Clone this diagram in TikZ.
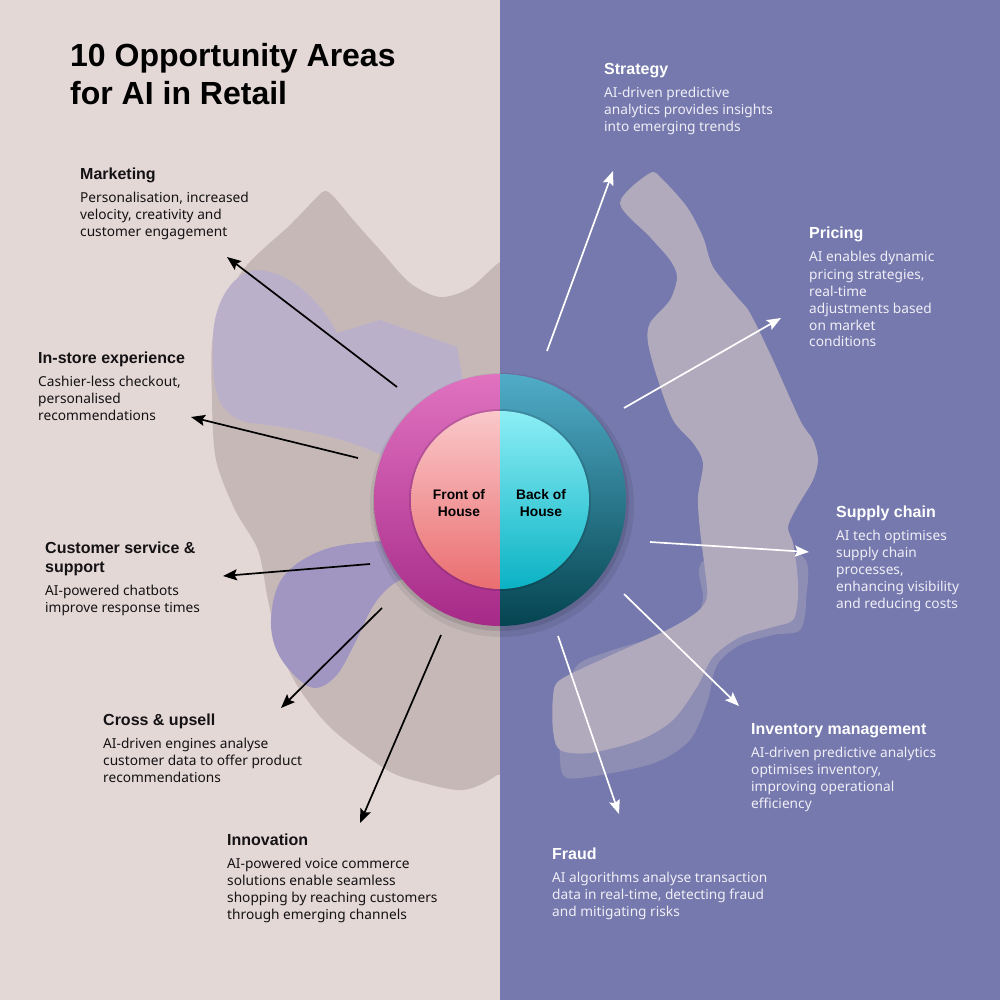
\documentclass[tikz,border=0pt]{standalone}
\usepackage{fontspec}
\setmainfont{Noto Sans}
\newfontfamily\headfont{Liberation Sans}
\usepackage{tikz}
\usetikzlibrary{arrows.meta}
\usepackage{xcolor}

\definecolor{leftbg}{RGB}{228,216,214}
\definecolor{rightbg}{RGB}{117,121,173}
\definecolor{blobgrey}{RGB}{199,184,184}
\definecolor{bloblav}{RGB}{186,176,201}
\definecolor{blobviolet}{RGB}{161,150,193}
\definecolor{blobright}{RGB}{177,169,188}
\definecolor{ringpinkT}{RGB}{224,114,192}
\definecolor{ringpinkB}{RGB}{166,42,136}
\definecolor{corepinkT}{RGB}{250,200,202}
\definecolor{corepinkM}{RGB}{239,140,140}
\definecolor{corepinkB}{RGB}{234,110,112}
\definecolor{ringtealT}{RGB}{80,172,200}
\definecolor{ringtealB}{RGB}{5,68,80}
\definecolor{coretealT}{RGB}{140,238,245}
\definecolor{coretealM}{RGB}{60,205,218}
\definecolor{coretealB}{RGB}{10,178,196}
\definecolor{inkdark}{RGB}{20,18,20}
\definecolor{inklight}{RGB}{240,238,247}

\newcommand{\areatext}[2]{\parbox[t]{300pt}{\raggedright
  {\headfont\fontsize{16}{19}\selectfont\bfseries\leavevmode #1\par}\vspace{6pt}
  {\fontsize{13.7}{17}\selectfont #2\par}}}

\begin{document}
\begin{tikzpicture}[x=1pt, y=-1pt,
    area/.style={anchor=base west, inner sep=0pt},
    fohline/.style={draw=black, line width=1.7pt, -{Stealth[length=14pt, width=11pt, inset=2.5pt]}},
    bohline/.style={draw=white, line width=1.7pt, -{Stealth[length=14pt, width=11pt, inset=2.5pt]}}]

    \useasboundingbox (0,0) rectangle (1000,1000);

    % Background halves and blobs
    \fill[leftbg] (0,0) rectangle (500,1000);
    \fill[blobgrey] plot[smooth cycle, tension=0.5] coordinates {
        (325,191) (334,197) (355,222) (380,250) (410,283) (440,297) (470,288) (500,262)
        (530,250) (530,740) (497,775) (463,790) (420,782) (387,770) (333,730)
        (300,690) (280,650) (268,600) (258,550) (235,510) (216,460) (212,400)
        (214,330) (243,270) (290,225) (317,197)};
    \fill[bloblav] (258,270) .. controls (290,272) and (320,300) .. (337,333)
        -- (380,320) -- (457,347) -- (470,420) -- (400,465)
        .. controls (360,440) and (300,428) .. (250,423)
        .. controls (215,415) and (212,390) .. (213,337)
        .. controls (214,300) and (235,270) .. (258,270) -- cycle;
    \fill[blobviolet] plot[smooth cycle, tension=0.6] coordinates {
        (380,541) (323,550) (283,577) (271,620) (280,657) (310,687) (335,677)
        (355,643) (375,603) (400,580) (430,575) (440,540)};

    \fill[rightbg] (500,0) rectangle (1000,1000);
    \fill[blobright, opacity=0.42] plot[smooth cycle, tension=0.5] coordinates {
        (705,560) (800,555) (806,600) (800,630) (773,635) (740,645) (717,665)
        (707,703) (690,740) (657,762) (607,774) (567,778) (560,760) (562,720)
        (575,668) (607,652) (657,637) (690,628) (703,600)};
    \fill[blobright] plot[smooth cycle, tension=0.5] coordinates {
        (650,173) (663,180) (687,207) (703,237) (713,267) (737,297) (750,313)
        (773,360) (800,420) (813,440) (818,460) (813,480) (797,507) (788,527)
        (793,543) (797,570) (798,597) (793,620) (773,627) (740,637) (713,657)
        (697,687) (673,720) (640,740) (590,753) (560,750) (553,730) (553,697)
        (560,680) (607,657) (667,630) (697,612) (707,597) (705,570) (700,530)
        (698,497) (703,463) (693,443) (673,420) (657,377) (648,343) (650,323)
        (670,300) (677,277) (670,260) (650,237) (620,203)};

    % Hub
    \coordinate (hub) at (500,500);
    \fill[black, opacity=0.07] (hub) ++(2,5) circle[radius=132pt];
    \fill[black, opacity=0.10] (hub) ++(1,3) circle[radius=128pt];
    \begin{scope}
        \clip (370,360) rectangle (500,640);
        \shade[top color=ringpinkT, bottom color=ringpinkB] (hub) circle[radius=126pt];
        \fill[black, opacity=0.12] (hub) circle[radius=91pt];
        \shade[top color=corepinkT, middle color=corepinkM, bottom color=corepinkB] (hub) circle[radius=89pt];
    \end{scope}
    \begin{scope}
        \clip (500,360) rectangle (630,640);
        \shade[top color=ringtealT, bottom color=ringtealB] (hub) circle[radius=126pt];
        \fill[black, opacity=0.12] (hub) circle[radius=91pt];
        \shade[top color=coretealT, middle color=coretealM, bottom color=coretealB] (hub) circle[radius=89pt];
    \end{scope}
    \node (foh) [align=center, font=\headfont\fontsize{13.8}{17}\selectfont\bfseries, text=black] at (459,503) {Front of\\House};
    \node (boh) [align=center, font=\headfont\fontsize{13.8}{17}\selectfont\bfseries, text=black] at (541,503) {Back of\\House};

    % Arrow ends, front of house
    \coordinate (mktS) at (397,387);   \coordinate (mktE) at (227,257);
    \coordinate (isxS) at (358,458);   \coordinate (isxE) at (191,417);
    \coordinate (cssS) at (370,564);   \coordinate (cssE) at (223,576);
    \coordinate (crsS) at (382,608);   \coordinate (crsE) at (281,708);
    \coordinate (invS) at (441,635);   \coordinate (invE) at (360,823);

    % Arrow ends, back of house
    \coordinate (strS) at (547,351);   \coordinate (strE) at (613,171);
    \coordinate (prcS) at (624,408);   \coordinate (prcE) at (781,318);
    \coordinate (supS) at (650,542);   \coordinate (supE) at (809,552);
    \coordinate (inmS) at (624,594);   \coordinate (inmE) at (739,706);
    \coordinate (frdS) at (558,636);   \coordinate (frdE) at (619,814);

    \draw[fohline] (mktS) -- (mktE);
    \draw[fohline] (isxS) -- (isxE);
    \draw[fohline] (cssS) -- (cssE);
    \draw[fohline] (crsS) -- (crsE);
    \draw[fohline] (invS) -- (invE);

    \draw[bohline] (strS) -- (strE);
    \draw[bohline] (prcS) -- (prcE);
    \draw[bohline] (supS) -- (supE);
    \draw[bohline] (inmS) -- (inmE);
    \draw[bohline] (frdS) -- (frdE);

    % Title
    \node (title) [area, text=black] at (70,67)
        {\parbox[t]{400pt}{\headfont\fontsize{32}{38}\selectfont\bfseries 10 Opportunity Areas\\for AI in Retail}};

    % Front of house areas
    \node (marketing) [area, text=inkdark] at (80,180)
        {\areatext{Marketing}{Personalisation, increased\\velocity, creativity and\\customer engagement}};
    \node (instore) [area, text=inkdark] at (38,363)
        {\areatext{In-store experience}{Cashier-less checkout,\\personalised\\recommendations}};
    \node (service) [area, text=inkdark] at (45,553)
        {\areatext{Customer service \&\\support}{AI-powered chatbots\\improve response times}};
    \node (upsell) [area, text=inkdark] at (103,725)
        {\areatext{Cross \& upsell}{AI-driven engines analyse\\customer data to offer product\\recommendations}};
    \node (innovation) [area, text=inkdark] at (227,845)
        {\areatext{Innovation}{AI-powered voice commerce\\solutions enable seamless\\shopping by reaching customers\\through emerging channels}};

    % Back of house areas
    \node (strategy) [area, text=inklight] at (604,75)
        {\areatext{\color{white}Strategy}{AI-driven predictive\\analytics provides insights\\into emerging trends}};
    \node (pricing) [area, text=inklight] at (809,239)
        {\areatext{\color{white}Pricing}{AI enables dynamic\\pricing strategies,\\real-time\\adjustments based\\on market\\conditions}};
    \node (supply) [area, text=inklight] at (836,517)
        {\areatext{\color{white}Supply chain}{AI tech optimises\\supply chain\\processes,\\enhancing visibility\\and reducing costs}};
    \node (inventory) [area, text=inklight] at (751,734)
        {\areatext{\color{white}Inventory management}{AI-driven predictive analytics\\optimises inventory,\\improving operational\\efficiency}};
    \node (fraud) [area, text=inklight] at (552,859)
        {\areatext{\color{white}Fraud}{AI algorithms analyse transaction\\data in real-time, detecting fraud\\and mitigating risks}};

\end{tikzpicture}
\end{document}
